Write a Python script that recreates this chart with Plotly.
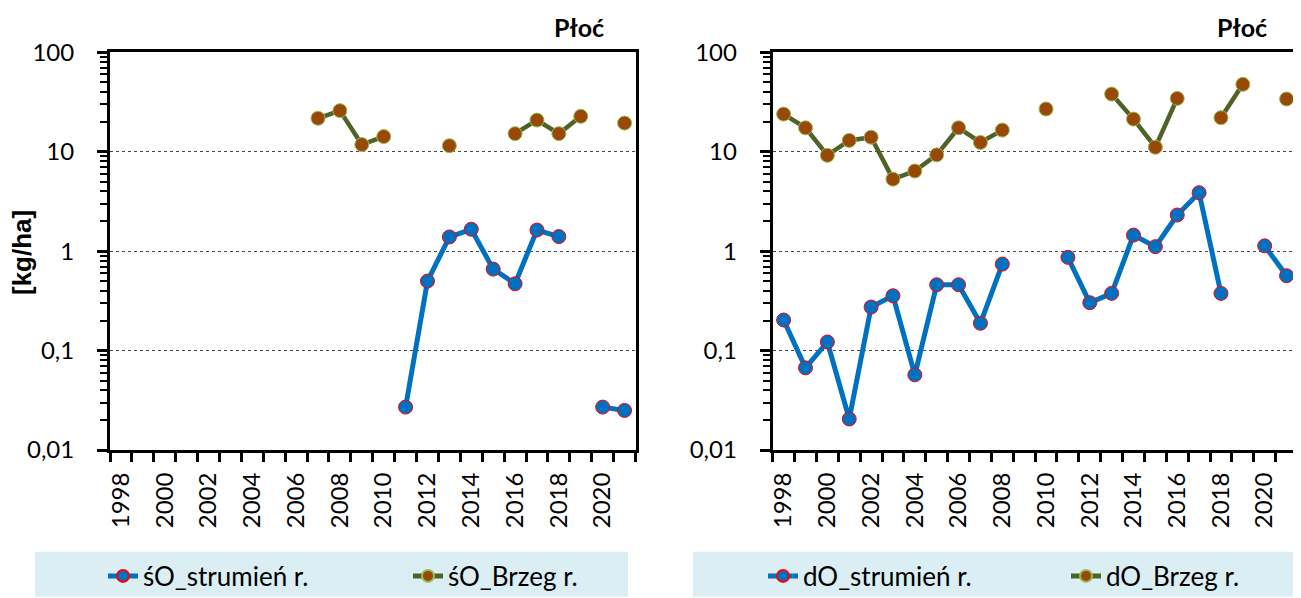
import plotly.graph_objects as go

# years on both panels
years = [1998, 1999, 2000, 2001, 2002, 2003, 2004, 2005, 2006, 2007, 2008, 2009,
         2010, 2011, 2012, 2013, 2014, 2015, 2016, 2017, 2018, 2019, 2020, 2021]
year_labels = [1998, 2000, 2002, 2004, 2006, 2008, 2010, 2012, 2014, 2016, 2018, 2020]

# left panel (śO)
so_strumien = [None, None, None, None, None, None, None, None, None, None, None, None,
               None, 0.027, 0.50, 1.39, 1.66, 0.66, 0.47, 1.63, 1.40, None, 0.027, 0.025]
so_brzeg = [None, None, None, None, None, None, None, None, None, 21.7, 25.9, 11.8,
            14.2, None, None, 11.5, None, None, 15.2, 20.8, 15.2, 22.7, None, 19.4]

# right panel (dO)
do_strumien = [0.203, 0.067, 0.122, 0.0205, 0.274, 0.356, 0.057, 0.459, 0.459, 0.188, 0.741, None,
               None, 0.867, 0.303, 0.376, 1.45, 1.11, 2.31, 3.87, 0.376, None, 1.13, 0.566]
do_brzeg = [23.9, 17.4, 9.2, 13.0, 14.0, 5.3, 6.4, 9.3, 17.4, 12.4, 16.5, None,
            26.9, None, None, 38.0, 21.3, 11.1, 34.4, None, 22.0, 47.6, None, 33.9]

ytick_vals = [0.01, 0.1, 1, 10, 100]
ytick_text = ["0,01", "0,1", "1", "10", "100"]

# page has an 8px body margin, so the figure is a bit smaller than the window
OFF = 8
W, H = 1301 - OFF, 598 - OFF
BLUE = "#0070C0"
BROWN = "#984807"
OLIVE = "#4F6228"
FONT = "Lato"

def px_x(v):
    return (v - OFF) / W

def px_y(v):
    return 1 - (v - OFF) / H

fig = go.Figure()

def add_pair(xa, ya, blue_y, brown_y, blue_name, brown_name, legend):
    fig.add_trace(go.Scatter(
        x=years, y=blue_y, name=blue_name, mode="lines+markers",
        xaxis=xa, yaxis=ya, legend=legend,
        line=dict(color=BLUE, width=5),
        marker=dict(color=BLUE, size=14, line=dict(color="#FF0000", width=1)),
    ))
    fig.add_trace(go.Scatter(
        x=years, y=brown_y, name=brown_name, mode="lines+markers",
        xaxis=xa, yaxis=ya, legend=legend,
        line=dict(color=OLIVE, width=4.5),
        marker=dict(color=BROWN, size=14, line=dict(color="#9BBB59", width=1)),
    ))

add_pair("x", "y", so_strumien, so_brzeg, "śO_strumień r.", "śO_Brzeg r.", "legend")
add_pair("x2", "y2", do_strumien, do_brzeg, "dO_strumień r.", "dO_Brzeg r.", "legend2")

minor_y = [k * 10 ** e for e in range(-2, 2) for k in range(2, 10)]

xaxis_common = dict(
    range=[1997.5, 2021.5], tickmode="array", tickvals=year_labels,
    tickangle=-90, ticks="", ticklabelstandoff=10, automargin=False,
    tickfont=dict(family=FONT, size=24, color="black"),
    showline=True, linecolor="black", linewidth=3, mirror=True,
    showgrid=False, zeroline=False,
    minor=dict(ticks="outside", tick0=1997.5, dtick=1, ticklen=9,
               tickwidth=2.5, tickcolor="black", showgrid=False),
)
yaxis_common = dict(
    type="log", range=[-2, 2], tickmode="array", tickvals=ytick_vals, ticktext=ytick_text,
    ticks="outside", ticklen=10, tickwidth=2.5, tickcolor="black", ticklabelstandoff=18,
    tickfont=dict(family=FONT, size=24, color="black"), automargin=False,
    showline=True, linecolor="black", linewidth=3, mirror=True,
    showgrid=True, gridcolor="#444444", gridwidth=1, griddash="dot", zeroline=False,
    minor=dict(ticks="outside", tickmode="array", tickvals=minor_y, ticklen=7,
               tickwidth=2, tickcolor="black", showgrid=False),
)

ydom = [px_y(450), px_y(52.3)]
fig.update_layout(
    width=W, height=H,
    margin=dict(l=0, r=0, t=0, b=0, autoexpand=False),
    paper_bgcolor="white", plot_bgcolor="white",
    xaxis=dict(domain=[px_x(110), px_x(635.5)], anchor="y", **xaxis_common),
    yaxis=dict(domain=ydom, anchor="x", **yaxis_common),
    xaxis2=dict(domain=[px_x(772.7), px_x(1297.5)], anchor="y2", **xaxis_common),
    yaxis2=dict(domain=ydom, anchor="x2", **yaxis_common),
    legend=dict(orientation="h", x=px_x(103), xanchor="left", y=px_y(576), yanchor="middle",
                bgcolor="rgba(0,0,0,0)", entrywidth=260, entrywidthmode="pixels",
                font=dict(family=FONT, size=26, color="black"), itemsizing="constant"),
    legend2=dict(orientation="h", x=px_x(763), xanchor="left", y=px_y(576), yanchor="middle",
                 bgcolor="rgba(0,0,0,0)", entrywidth=258, entrywidthmode="pixels",
                 font=dict(family=FONT, size=26, color="black"), itemsizing="constant"),
    shapes=[
        dict(type="rect", xref="paper", yref="paper", layer="below",
             x0=px_x(35), x1=px_x(628), y0=px_y(596.7), y1=px_y(551.7),
             fillcolor="#DAEEF3", line=dict(width=0)),
        dict(type="rect", xref="paper", yref="paper", layer="below",
             x0=px_x(693), x1=px_x(1296), y0=px_y(596.7), y1=px_y(551.7),
             fillcolor="#DAEEF3", line=dict(width=0)),
    ],
    annotations=[
        dict(text="<b>Płoć</b>", xref="paper", yref="paper", x=px_x(606), y=px_y(27),
             xanchor="right", yanchor="middle", showarrow=False,
             font=dict(family=FONT, size=25, color="black")),
        dict(text="<b>Płoć</b>", xref="paper", yref="paper", x=px_x(1269), y=px_y(27),
             xanchor="right", yanchor="middle", showarrow=False,
             font=dict(family=FONT, size=25, color="black")),
        dict(text="<b>[kg/ha]</b>", xref="paper", yref="paper", x=px_x(22), y=px_y(253),
             xanchor="center", yanchor="middle", showarrow=False, textangle=-90,
             font=dict(family="Liberation Sans", size=26, color="black")),
    ],
)

fig.write_html("out.html")
